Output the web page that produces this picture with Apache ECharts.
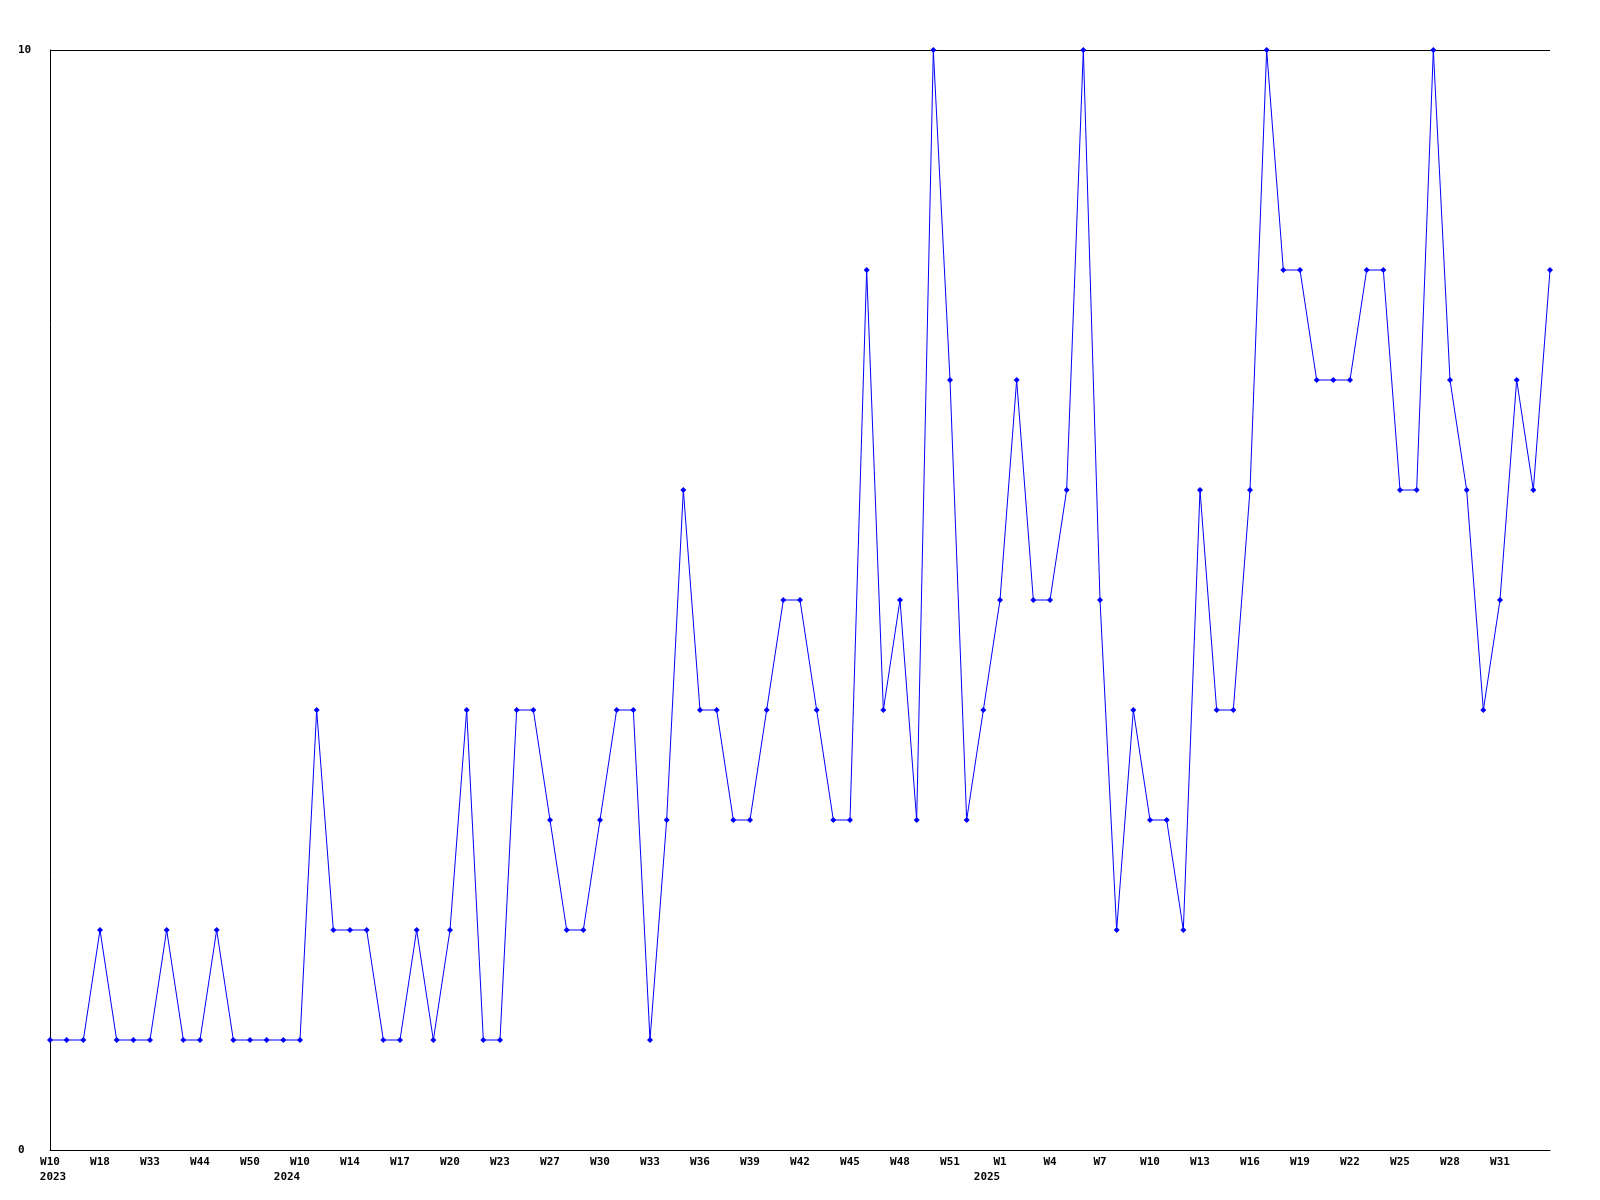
<!DOCTYPE html>
<html>
<head>
<meta charset="utf-8">
<script src="https://cdn.jsdelivr.net/npm/echarts@6/dist/echarts.min.js"></script>
<style>html,body{margin:0;padding:0;background:#fff}#c{width:1600px;height:1200px}</style>
</head>
<body>
<div id="c"></div>
<script>
// categories: year-week keys
var weeks = [
 '2023-W10','2023-W12','2023-W15','2023-W18','2023-W24','2023-W29','2023-W33','2023-W38','2023-W41','2023-W44','2023-W46','2023-W48','2023-W50','2023-W51','2023-W52',
 '2024-W10','2024-W12','2024-W13','2024-W14','2024-W15','2024-W16','2024-W17','2024-W18','2024-W19','2024-W20','2024-W21','2024-W22','2024-W23','2024-W24','2024-W26',
 '2024-W27','2024-W28','2024-W29','2024-W30','2024-W31','2024-W32','2024-W33','2024-W34','2024-W35','2024-W36','2024-W37','2024-W38','2024-W39','2024-W40','2024-W41',
 '2024-W42','2024-W43','2024-W44','2024-W45','2024-W46','2024-W47','2024-W48','2024-W49','2024-W50','2024-W51','2024-W52','2024-W53',
 '2025-W1','2025-W2','2025-W3','2025-W4','2025-W5','2025-W6','2025-W7','2025-W8','2025-W9','2025-W10','2025-W11','2025-W12','2025-W13','2025-W14','2025-W15',
 '2025-W16','2025-W17','2025-W18','2025-W19','2025-W20','2025-W21','2025-W22','2025-W23','2025-W24','2025-W25','2025-W26','2025-W27','2025-W28','2025-W29','2025-W30',
 '2025-W31','2025-W32','2025-W33','2025-W34'
];
var values = [
 1,1,1,2,1,1,1,2,1,1,2,1,1,1,1,
 1,4,2,2,2,1,1,2,1,2,4,1,1,4,4,
 3,2,2,3,4,4,1,3,6,4,4,3,3,4,5,
 5,4,3,3,8,4,5,3,10,7,3,4,
 5,7,5,5,6,10,5,2,4,3,3,2,6,4,4,
 6,10,8,8,7,7,7,8,8,6,6,10,7,6,4,
 5,7,6,8
];
var yTicks = [0, 10];

var chart = echarts.init(document.getElementById('c'));
var font = 'DejaVu Sans Mono';
chart.setOption({
  animation: false,
  backgroundColor: '#ffffff',
  grid: {left: 50, right: 50, top: 50, bottom: 50, containLabel: false},
  xAxis: {
    type: 'category',
    data: weeks,
    boundaryGap: false,
    axisLine: {show: true, lineStyle: {color: '#000', width: 1}},
    axisTick: {show: false},
    splitLine: {show: false},
    axisLabel: {
      interval: function (i) { return i % 3 === 0 && i < weeks.length - 1; },
      margin: 5,
      color: '#000',
      fontFamily: font,
      fontWeight: 'bold',
      fontSize: 11,
      lineHeight: 15,
      formatter: function (v, i) {
        var p = v.split('-');
        var prev = i > 0 ? weeks[i - 1].split('-')[0] : null;
        if (p[0] !== prev) {
          if (i === 0) return p[1] + '\n{y0|' + p[0] + '}';
          return p[1] + '\n{y|' + p[0] + '}';
        }
        return p[1];
      },
      rich: {
        y: {fontFamily: font, fontWeight: 'bold', fontSize: 11, lineHeight: 15, color: '#000', padding: [0, 26, 0, 0]},
        y0: {fontFamily: font, fontWeight: 'bold', fontSize: 11, lineHeight: 15, color: '#000', padding: [0, 0, 0, 6]}
      }
    }
  },
  yAxis: {
    type: 'value',
    min: yTicks[0],
    max: yTicks[1],
    interval: 10,
    axisLine: {show: true, lineStyle: {color: '#000', width: 1}},
    axisTick: {show: false},
    splitLine: {show: true, lineStyle: {color: '#000', width: 1}},
    axisLabel: {
      align: 'left',
      margin: 32,
      color: '#000',
      fontFamily: font,
      fontWeight: 'bold',
      fontSize: 11
    }
  },
  series: [{
    type: 'line',
    data: values,
    symbol: 'diamond',
    symbolSize: 6,
    showAllSymbol: true,
    lineStyle: {color: '#0000ff', width: 1},
    itemStyle: {color: '#0000ff'}
  }]
});
</script>
</body>
</html>
